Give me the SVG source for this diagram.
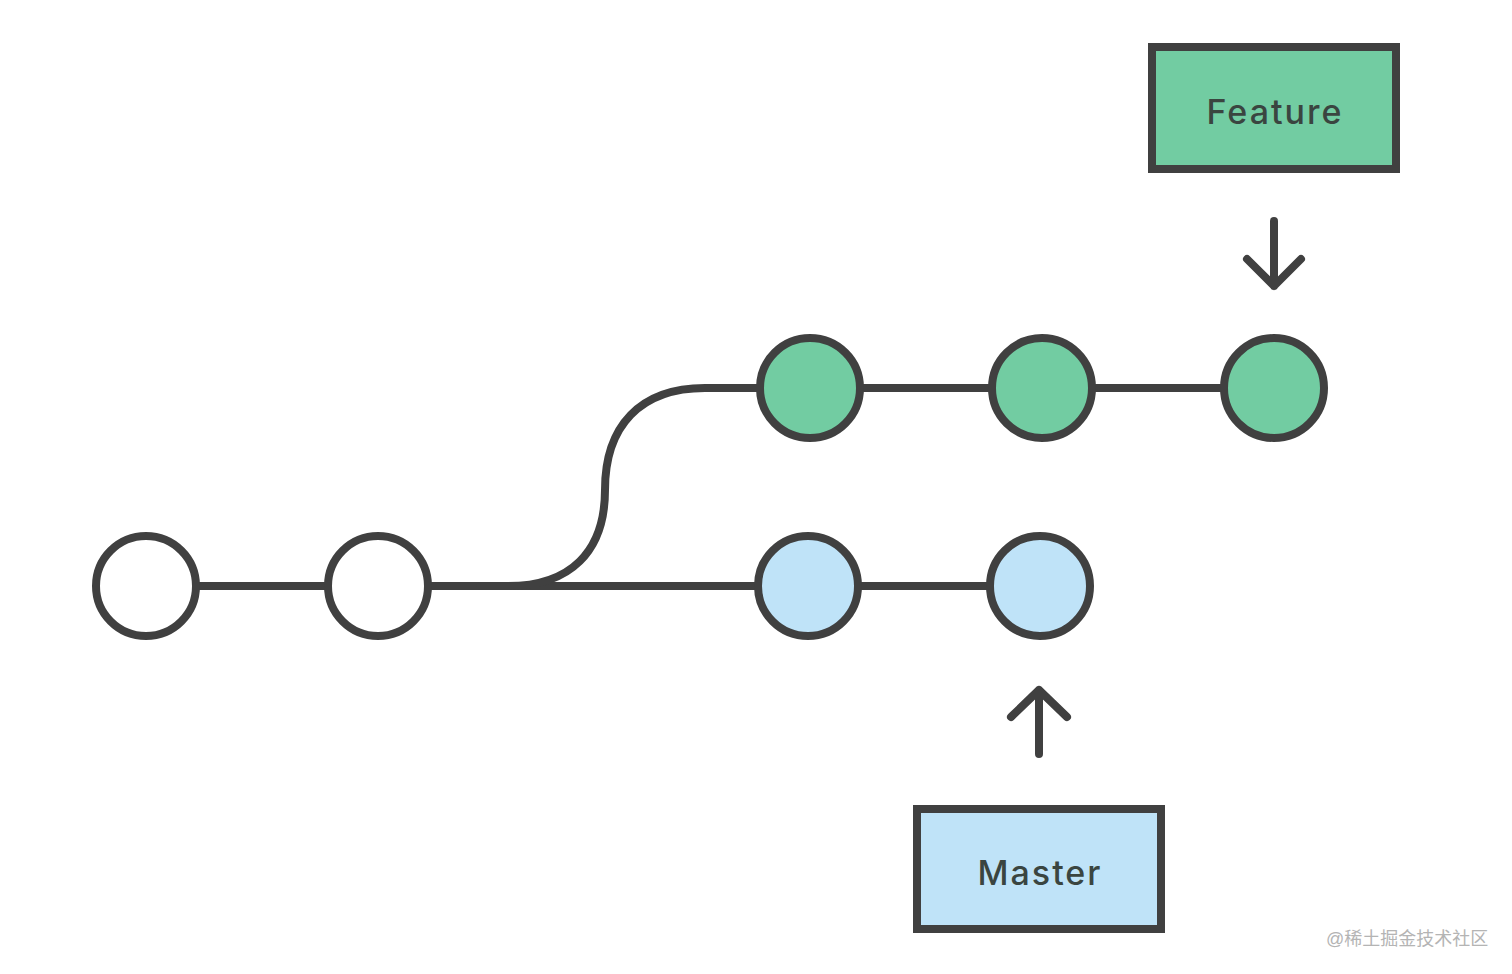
<svg xmlns="http://www.w3.org/2000/svg" width="1512" height="974" viewBox="0 0 1512 974">
<style>
.ln{fill:none;stroke:#404040;stroke-width:8;stroke-linecap:round;stroke-linejoin:round}
.c{stroke:#404040;stroke-width:8}
.w{fill:#ffffff}
.g{fill:#72cca2}
.b{fill:#bfe3f8}
.lbl{font-family:"Inter","Liberation Sans",sans-serif;font-size:34px;font-weight:500;fill:#3a4540;text-anchor:middle;letter-spacing:2px}
.wm{font-family:"Liberation Sans","Noto Sans CJK SC",sans-serif;font-size:18px;fill:#b4b4b4}
</style>
<rect width="1512" height="974" fill="#ffffff"/>
<g id="connectors">
<path class="ln" d="M146 586 H1040"/>
<path class="ln" d="M480 586 H508 C570 586 605 552 605 490 C605 426 640 388 705 388 H1274"/>
<path class="ln" d="M1274 221 V286 M1247 259 L1274 286 L1301 259"/>
<path class="ln" d="M1039 754 V690 M1011 717 L1039 690 L1067 717"/>
</g>
<g id="c1"><circle class="c w" cx="146" cy="586" r="50"/></g>
<g id="c2"><circle class="c w" cx="378" cy="586" r="50"/></g>
<g id="m1"><circle class="c b" cx="808" cy="586" r="50"/></g>
<g id="m2"><circle class="c b" cx="1040" cy="586" r="50"/></g>
<g id="f1"><circle class="c g" cx="810" cy="388" r="50"/></g>
<g id="f2"><circle class="c g" cx="1042" cy="388" r="50"/></g>
<g id="f3"><circle class="c g" cx="1274" cy="388" r="50"/></g>
<g id="feature">
<rect class="c g" x="1152" y="47" width="244" height="122"/>
<text class="lbl" x="1275" y="124">Feature</text>
</g>
<g id="master">
<rect class="c b" x="917" y="809" width="244" height="120"/>
<text class="lbl" x="1040" y="885">Master</text>
</g>
<text class="wm" x="1326" y="945">@稀土掘金技术社区</text>
</svg>
